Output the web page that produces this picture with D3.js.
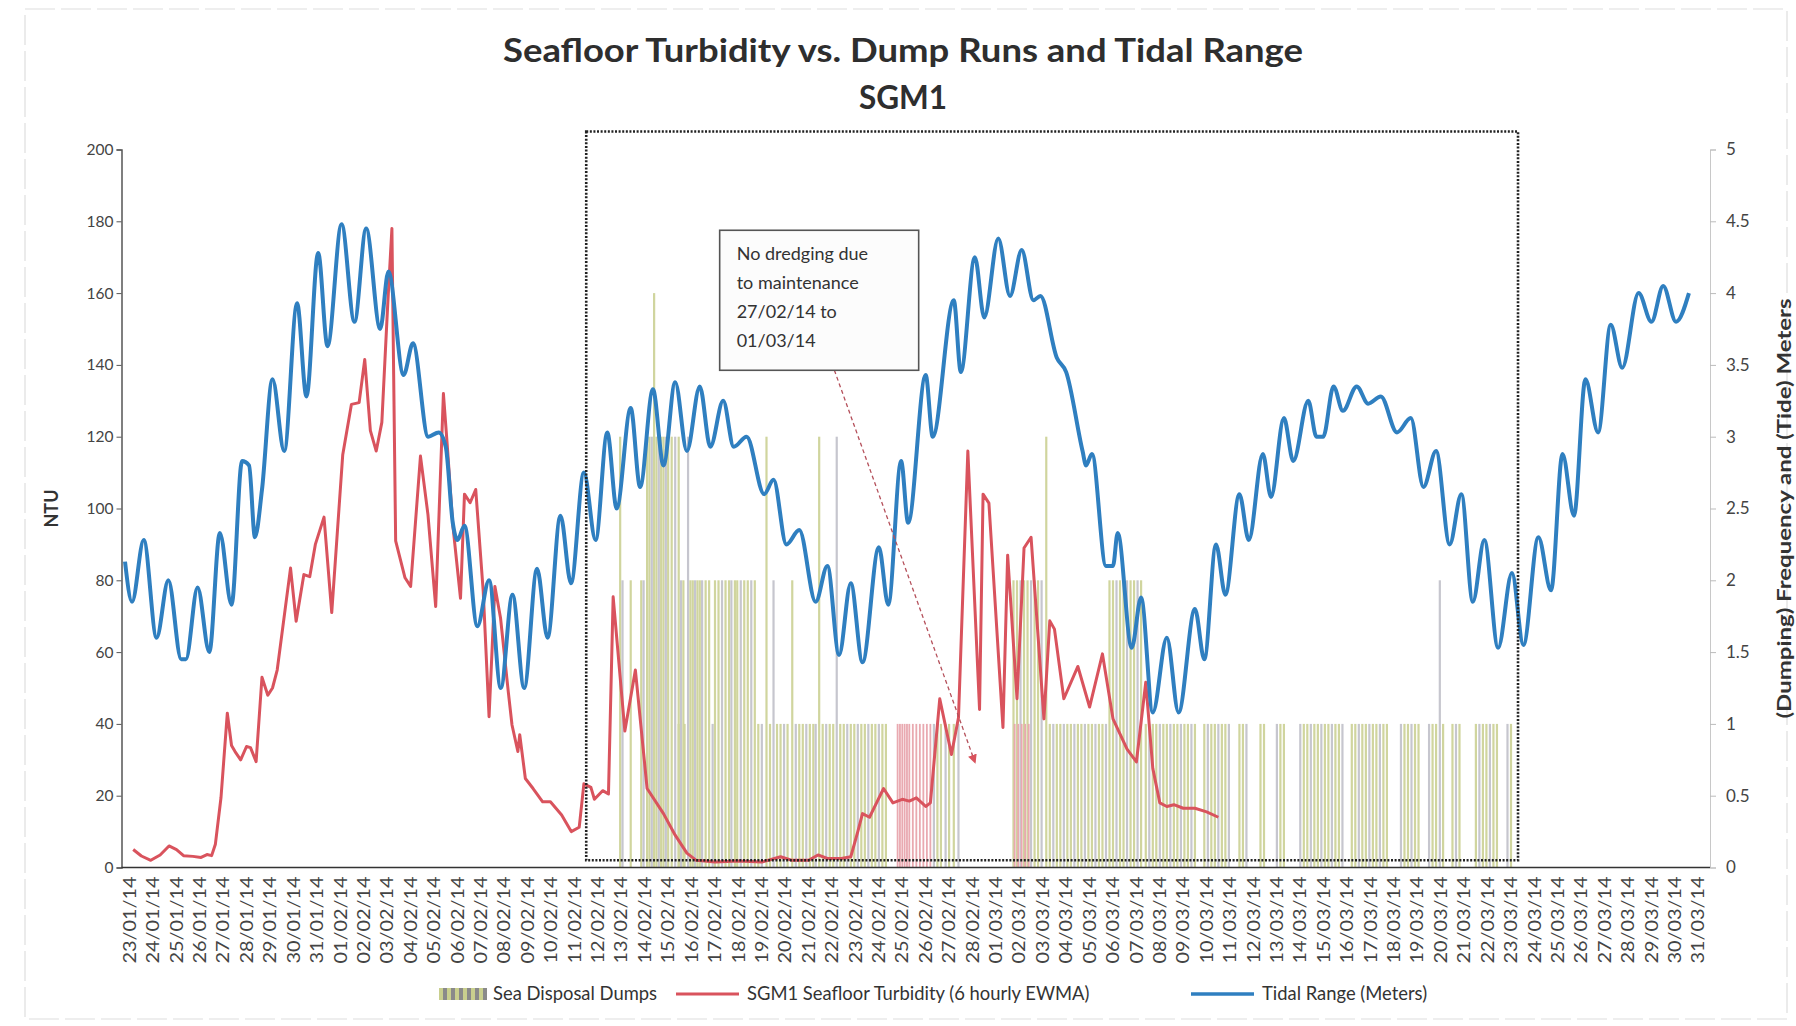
<!DOCTYPE html>
<html><head><meta charset="utf-8">
<script src="https://cdn.jsdelivr.net/npm/d3@7/dist/d3.min.js"></script>
<style>
html,body{margin:0;padding:0;background:#ffffff;}
svg{display:block;font-family:Lato,"Open Sans","Liberation Sans",sans-serif;}
</style></head><body>
<svg id="chart" width="1796" height="1026"></svg>
<script>
// ---------------- DATA ----------------
const dateLabels = ["23/01/14","24/01/14","25/01/14","26/01/14","27/01/14","28/01/14","29/01/14","30/01/14","31/01/14",
"01/02/14","02/02/14","03/02/14","04/02/14","05/02/14","06/02/14","07/02/14","08/02/14","09/02/14","10/02/14","11/02/14",
"12/02/14","13/02/14","14/02/14","15/02/14","16/02/14","17/02/14","18/02/14","19/02/14","20/02/14","21/02/14","22/02/14",
"23/02/14","24/02/14","25/02/14","26/02/14","27/02/14","28/02/14","01/03/14","02/03/14","03/03/14","04/03/14","05/03/14",
"06/03/14","07/03/14","08/03/14","09/03/14","10/03/14","11/03/14","12/03/14","13/03/14","14/03/14","15/03/14","16/03/14",
"17/03/14","18/03/14","19/03/14","20/03/14","21/03/14","22/03/14","23/03/14","24/03/14","25/03/14","26/03/14","27/03/14",
"28/03/14","29/03/14","30/03/14","31/03/14"];
const leftTicks = [0,20,40,60,80,100,120,140,160,180,200];
const rightTicks = [0,0.5,1,1.5,2,2.5,3,3.5,4,4.5,5];

// Tidal range (metres), time in days since 23/01/14
const tideDays = [-0.2,0.1,0.6,1.15,1.65,2.2,2.4,2.9,3.4,3.85,4.35,4.8,5.1,5.35,5.65,6.1,6.6,7.15,7.55,8.05,8.45,9.05,9.6,10.1,10.7,11.05,11.7,12.1,12.75,13.2,13.5,13.8,14.0,14.3,14.85,15.35,15.85,16.35,16.85,17.4,17.85,18.4,18.85,19.4,19.9,20.4,20.8,21.4,21.8,22.35,22.8,23.3,23.8,24.35,24.8,25.35,25.8,26.35,27.1,27.5,28.05,28.6,29.3,29.8,30.3,30.8,31.3,32.0,32.4,32.95,33.25,34.0,34.3,35.2,35.5,36.1,36.5,37.1,37.6,38.1,38.6,38.9,39.6,40.0,40.7,40.85,41.1,41.7,42.0,42.2,42.8,43.2,43.7,44.3,44.8,45.5,45.9,46.4,46.8,47.4,47.8,48.4,48.75,49.3,49.7,50.34,50.69,50.98,51.42,51.82,52.41,52.9,53.44,54.13,54.72,55.26,55.8,56.38,56.88,57.37,57.86,58.45,59.04,59.53,60.17,60.71,61.2,61.69,62.18,62.72,63.26,63.75,64.45,65.0,65.5,66.05,66.6];
const tideMeters = [2.13,1.85,2.28,1.6,2.0,1.45,1.45,1.95,1.5,2.33,1.83,2.83,2.8,2.3,2.63,3.4,2.9,3.93,3.28,4.28,3.63,4.48,3.8,4.45,3.75,4.15,3.43,3.65,3.0,3.03,2.93,2.4,2.28,2.38,1.68,2.0,1.25,1.9,1.25,2.08,1.6,2.45,1.98,2.75,2.28,3.03,2.5,3.2,2.65,3.33,2.8,3.38,2.9,3.35,2.93,3.25,2.93,3.0,2.6,2.7,2.25,2.35,1.85,2.1,1.48,1.98,1.43,2.23,1.83,2.83,2.4,3.43,3.0,3.95,3.45,4.25,3.83,4.38,3.98,4.3,3.95,3.98,3.55,3.45,2.9,2.8,2.88,2.1,2.1,2.33,1.53,1.88,1.08,1.6,1.08,1.8,1.45,2.25,1.9,2.6,2.28,2.88,2.58,3.13,2.83,3.25,3.0,3.0,3.35,3.18,3.35,3.23,3.28,3.03,3.13,2.65,2.9,2.25,2.6,1.85,2.28,1.53,2.05,1.55,2.3,1.93,2.88,2.45,3.4,3.03,3.78,3.48,4.0,3.8,4.05,3.8,4.0];

// SGM1 seafloor turbidity (NTU, 6 hourly EWMA)
const turbDays = [0.15,0.5,0.9,1.3,1.68,2.0,2.3,2.7,3.05,3.3,3.5,3.66,3.9,4.17,4.35,4.5,4.74,4.99,5.16,5.4,5.65,5.9,6.1,6.3,6.87,7.11,7.44,7.69,7.93,8.3,8.63,9.1,9.47,9.8,10.04,10.28,10.53,10.77,11.02,11.2,11.36,11.76,12.0,12.42,12.74,13.07,13.4,13.56,13.8,14.13,14.3,14.54,14.78,15.1,15.35,15.6,15.84,16.17,16.33,16.58,16.66,16.9,17.23,17.64,17.97,18.45,18.86,19.2,19.4,19.7,19.85,20.2,20.45,20.65,21.15,21.6,22.1,22.8,23.3,23.8,24.2,25.0,26.0,27.0,27.8,28.3,29.0,29.4,29.8,30.4,30.8,31.1,31.3,31.6,31.9,32.2,32.6,33.0,33.3,33.6,34.0,34.2,34.6,35.1,35.4,35.8,36.3,36.45,36.7,37.3,37.5,37.9,38.2,38.5,39.05,39.3,39.5,39.9,40.5,41.0,41.55,42.0,42.6,43.0,43.4,43.7,44.0,44.3,44.6,45.0,45.5,46.0,46.5];
const turbNTU = [5,3.2,2,3.5,6,5,3.3,3.1,2.8,3.6,3.3,6.5,19.5,43,34,32.3,30,33.7,33.4,29.5,53,48,50,55,83.4,68.6,81.6,81,90,97.6,71,115,129,129.5,141.5,121.7,116,124,156.7,178,91,80.7,78.3,114.6,98.3,72.7,132,118,95.5,75,104,101.6,105.3,77,42,78.3,69.5,49,39.7,32.3,37,24.8,22,18.3,18.3,14.6,10,11.2,23.3,22.3,19,21.4,20.5,75.4,38,55,22,15,9,4,2,1.5,1.8,1.5,3,2,2,3.5,2.5,2.5,3,10,15,14,18,22,18,19,18.5,19.4,17,18,47,31.5,41.7,116,44,104,101.5,39,87,47,89,92,41.4,68.7,66.4,47,56,44.7,59.5,41.4,33,29.4,51.6,27.6,18,17,17.5,16.5,16.5,15.5,14];

// Sea disposal dumps: times (days since 23/01/14) grouped by number of dumps
const dumpDays1 = [23.45,23.7,24.9,26.85,27.0,27.35,27.65,27.8,27.95,28.1,28.45,28.6,28.75,28.9,29.05,29.2,29.3,29.6,29.75,29.9,30.05,30.35,30.5,30.65,30.8,30.95,31.1,31.25,31.4,31.55,31.7,31.85,32.0,32.15,32.3,
  34.35,34.5,34.65,34.85,35.0,35.2,35.4,
  39.3,39.45,39.6,39.75,39.9,40.05,40.2,40.35,40.5,40.65,40.8,40.95,41.1,41.25,41.4,41.55,41.7,
  43.4,43.55,43.7,43.85,44.0,44.15,44.3,44.45,44.6,44.75,44.9,45.05,45.2,45.35,45.5,45.9,46.05,46.2,46.35,46.5,46.65,46.8,46.95,
  47.4,47.55,47.7,48.3,48.45,49.0,49.15,49.3,50.0,50.15,50.3,50.45,50.6,50.75,50.9,51.05,51.2,51.35,51.5,51.65,51.8,
  52.2,52.35,52.5,52.65,52.8,52.95,53.1,53.25,53.4,53.55,53.7,54.3,54.45,54.6,54.75,54.9,55.05,55.5,55.65,55.8,56.1,
  56.5,56.65,56.8,57.5,57.65,57.8,57.95,58.1,58.25,58.4,58.85,59.0];
const dumpDays2 = [21.05,21.4,21.85,21.95,23.55,23.65,23.95,24.05,24.15,24.25,24.35,24.45,24.6,24.75,25.0,25.15,25.3,25.45,25.6,25.7,25.85,25.95,26.1,26.25,26.4,26.55,26.7,27.5,28.3,
  37.75,37.9,38.05,38.2,38.35,38.5,38.65,38.8,38.95,41.85,42.0,42.15,42.3,42.45,42.6,42.75,42.9,43.05,43.2,55.96];
const dumpDays3 = [20.95,22.1,22.2,22.3,22.5,22.6,22.7,22.8,22.9,23.0,23.15,23.3,23.45,23.85,27.2,29.45,30.2,39.15];
const dumpDays4 = [22.4];
const dumpDaysFlagged = [32.8,32.9,33.0,33.1,33.2,33.3,33.45,33.6,33.75,33.9,34.05,34.2,37.8,37.95,38.1,38.25,38.4];

// Annotation
const noteLines = ["No dredging due","to maintenance","27/02/14 to","01/03/14"];
const titleLines = ["Seafloor Turbidity vs. Dump Runs and Tidal Range","SGM1"];

// ---------------- CHART ----------------
const svg = d3.select("#chart");
const L = 121.5, R = 1710, T = 149.5, B = 867.5;
const x = d3.scaleLinear().domain([-0.35, 67.5]).range([L, R]);
const yL = d3.scaleLinear().domain([0, 200]).range([B, T]);
const yR = d3.scaleLinear().domain([0, 5]).range([B, T]);

svg.append("rect").attr("width",1796).attr("height",1026).attr("fill","#ffffff");
// faint scanned frame
svg.append("rect").attr("x",25).attr("y",9).attr("width",1762).attr("height",1010)
  .attr("fill","none").attr("stroke","#dedede").attr("stroke-width",1.2).attr("stroke-dasharray","30,6");

// title
svg.selectAll("text.title").data(titleLines).join("text").attr("class","title")
  .attr("x",903).attr("y",(d,i)=>62+i*47).attr("text-anchor","middle")
  .attr("font-size",31.5).attr("font-weight",700).attr("fill","#2e2e2e")
  .each(function(d,i){ if(i===0) d3.select(this).attr("textLength",800).attr("lengthAdjust","spacingAndGlyphs"); })
  .text(d=>d);

// bars
const bars = [];
[[dumpDays1,1],[dumpDays2,2],[dumpDays3,3],[dumpDays4,4]].forEach(([arr,c])=>arr.forEach(d=>bars.push({d,c})));
bars.sort((a,b)=>a.d-b.d);
svg.append("g").selectAll("rect").data(bars).join("rect")
  .attr("x",b=>x(b.d)-1.1).attr("width",2.2)
  .attr("y",b=>yR(b.c)).attr("height",b=>B-yR(b.c))
  .attr("fill",(b,i)=> i%3===1 ? "#c6c6ce" : "#d0d59e");
svg.append("g").selectAll("rect").data(dumpDaysFlagged).join("rect")
  .attr("x",d=>x(d)-0.9).attr("width",1.8)
  .attr("y",yR(1)).attr("height",B-yR(1))
  .attr("fill","#e9a9b0");

// axes
const gL = svg.append("g").attr("transform",`translate(${L},0)`)
  .call(d3.axisLeft(yL).tickValues(leftTicks).tickSize(5).tickPadding(3));
gL.select(".domain").attr("stroke","#555").attr("stroke-width",1.5);
gL.selectAll(".tick line").attr("stroke","#555");
gL.selectAll("text").attr("font-size",15.5).attr("fill","#444").attr("font-family","Lato,sans-serif");

const gR = svg.append("g").attr("transform",`translate(${R},0)`)
  .call(d3.axisRight(yR).tickValues(rightTicks).tickSize(6).tickPadding(10).tickFormat(d=>String(d)));
gR.select(".domain").attr("stroke","#c8c8c8").attr("stroke-width",1);
gR.selectAll(".tick line").attr("stroke","#bbb");
gR.selectAll("text").attr("font-size",17).attr("fill","#444").attr("font-family","Lato,sans-serif");

// x axis
svg.append("line").attr("x1",L).attr("x2",R).attr("y1",B).attr("y2",B)
  .attr("stroke","#333").attr("stroke-width",1.6);
svg.append("g").selectAll("text").data(dateLabels).join("text")
  .attr("transform",(d,i)=>`translate(${x(i)},${B+9}) rotate(-90)`)
  .attr("text-anchor","end").attr("dy","0.35em")
  .attr("font-size",17.5).attr("fill","#444")
  .attr("textLength",87).attr("lengthAdjust","spacingAndGlyphs").text(d=>d);

// axis titles
svg.append("text").attr("transform",`translate(52,${(T+B)/2}) rotate(-90)`)
  .attr("text-anchor","middle").attr("dy","0.35em").attr("font-size",18).attr("font-weight",700)
  .attr("fill","#333").text("NTU");
svg.append("text").attr("transform",`translate(1784,${(T+B)/2}) rotate(-90)`)
  .attr("text-anchor","middle").attr("dy","0.35em").attr("font-size",19.5).attr("font-weight",700)
  .attr("fill","#333").attr("textLength",420).attr("lengthAdjust","spacingAndGlyphs")
  .text("(Dumping) Frequency and (Tide) Meters");

// lines
const turb = turbDays.map((d,i)=>({d,v:turbNTU[i]}));
const tide = tideDays.map((d,i)=>({d,v:tideMeters[i]}));
svg.append("path").datum(turb)
  .attr("d",d3.line().x(p=>x(p.d)).y(p=>yL(p.v)))
  .attr("fill","none").attr("stroke","#d9535d").attr("stroke-width",3).attr("stroke-linejoin","round");
svg.append("path").datum(tide)
  .attr("d",d3.line().curve(d3.curveMonotoneX).x(p=>x(p.d)).y(p=>yR(p.v)))
  .attr("fill","none").attr("stroke","#2f7fc0").attr("stroke-width",4).attr("stroke-linejoin","round");

// dotted highlight rectangle (12/02 - 23/03)
svg.append("rect").attr("x",x(19.5)).attr("y",yL(205)).attr("width",x(59.3)-x(19.5)).attr("height",yL(2)-yL(205))
  .attr("fill","none").attr("stroke","#222").attr("stroke-width",2.6).attr("stroke-dasharray","2,1.6");

// callout
const bx = x(25.2), by = yL(177.5), bw = x(33.7)-x(25.2), bh = yL(138.5)-yL(177.5);
svg.append("defs").append("marker").attr("id","ah").attr("viewBox","0 0 10 10").attr("refX",8).attr("refY",5)
  .attr("markerWidth",7).attr("markerHeight",7).attr("orient","auto")
  .append("path").attr("d","M0,0 L10,5 L0,10 z").attr("fill","#d9535d");
svg.append("line").attr("x1",x(30.1)).attr("y1",by+bh).attr("x2",x(36.1)).attr("y2",yL(29.4))
  .attr("stroke","#b5505b").attr("stroke-width",1.3).attr("stroke-dasharray","4,3").attr("marker-end","url(#ah)");
svg.append("rect").attr("x",bx).attr("y",by).attr("width",bw).attr("height",bh)
  .attr("fill","#fcfcfc").attr("stroke","#555").attr("stroke-width",1.6);
svg.append("g").selectAll("text").data(noteLines).join("text")
  .attr("x",bx+17).attr("y",(d,i)=>by+30+i*29).attr("font-size",18).attr("fill","#333").text(d=>d);

// legend
const lg = svg.append("g");
const sw = [0,4,8,12,16,20,24,28,32,36,40,44];
lg.selectAll("rect.sw").data(sw).join("rect").attr("class","sw")
  .attr("x",d=>439+d).attr("y",988).attr("width",4).attr("height",12)
  .attr("fill",(d,i)=> i%2 ? "#8a8a8a" : "#c9cf8e");
lg.append("text").attr("x",493).attr("y",1000).attr("font-size",18.4).attr("fill","#333").text("Sea Disposal Dumps");
lg.append("line").attr("x1",676).attr("x2",739).attr("y1",994).attr("y2",994).attr("stroke","#d9535d").attr("stroke-width",3);
lg.append("text").attr("x",747).attr("y",1000).attr("font-size",18.4).attr("fill","#333").text("SGM1 Seafloor Turbidity (6 hourly EWMA)");
lg.append("line").attr("x1",1191).attr("x2",1254).attr("y1",994).attr("y2",994).attr("stroke","#2f7fc0").attr("stroke-width",3.6);
lg.append("text").attr("x",1262).attr("y",1000).attr("font-size",18.4).attr("fill","#333").text("Tidal Range (Meters)");
</script>
</body></html>
